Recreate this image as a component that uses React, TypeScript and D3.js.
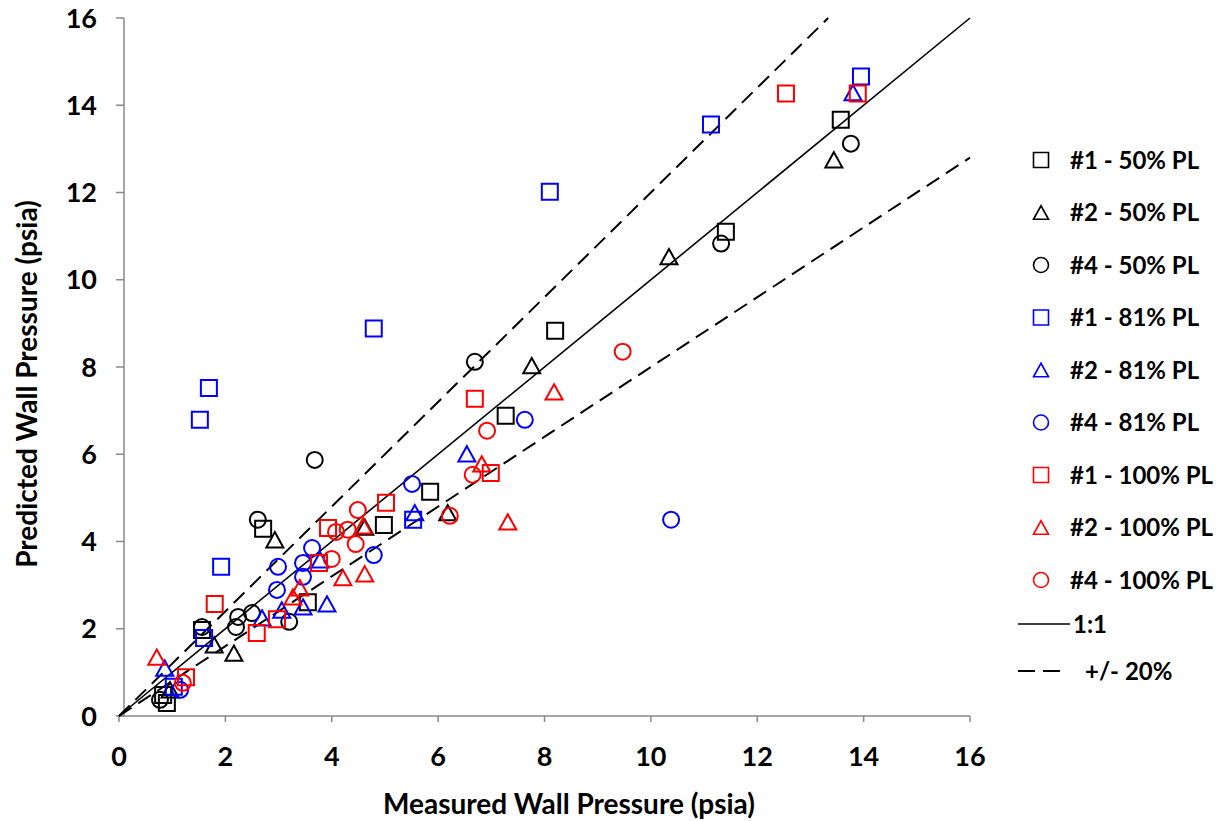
import React from 'react';
import * as d3 from 'd3';

const W = 1231;
const H = 821;

const xTicks = [0, 2, 4, 6, 8, 10, 12, 14, 16];
const yTicks = [0, 2, 4, 6, 8, 10, 12, 14, 16];

const seriesNames = [
  '#1 - 50% PL', '#2 - 50% PL', '#4 - 50% PL',
  '#1 - 81% PL', '#2 - 81% PL', '#4 - 81% PL',
  '#1 - 100% PL', '#2 - 100% PL', '#4 - 100% PL',
];
const seriesShapes = ['square', 'triangle', 'circle', 'square', 'triangle', 'circle', 'square', 'triangle', 'circle'];
const seriesColors = ['#000000', '#000000', '#000000', '#0000ff', '#0000ff', '#0000ff', '#ff0000', '#ff0000', '#ff0000'];

// [measured, predicted]
const s1_50: [number, number][] = [
  [13.57, 13.67], [11.41, 11.10], [8.20, 8.83], [7.27, 6.88], [5.85, 5.14], [4.98, 4.38],
  [2.71, 4.29], [3.55, 2.61], [1.56, 1.97], [0.83, 0.48], [0.90, 0.30],
];
const s2_50: [number, number][] = [
  [13.44, 12.75], [10.34, 10.53], [7.76, 8.03], [6.18, 4.66], [4.62, 4.33], [2.93, 4.04],
  [1.79, 1.63], [2.16, 1.44], [0.96, 0.60],
];
const s4_50: [number, number][] = [
  [13.76, 13.12], [11.32, 10.83], [6.69, 8.12], [3.68, 5.87], [2.61, 4.50], [2.24, 2.27],
  [2.20, 2.04], [3.20, 2.16], [2.50, 2.36], [1.56, 2.04], [0.77, 0.37],
];
const s1_81: [number, number][] = [
  [13.95, 14.66], [11.13, 13.56], [8.10, 12.02], [4.79, 8.88], [1.69, 7.52], [1.52, 6.79],
  [1.92, 3.42], [5.53, 4.50], [1.60, 1.79], [1.03, 0.67],
];
const s2_81: [number, number][] = [
  [13.80, 14.29], [6.54, 6.01], [5.56, 4.66], [3.78, 3.58], [3.91, 2.57], [3.46, 2.50],
  [3.06, 2.43], [2.69, 2.25], [0.86, 1.10],
];
const s4_81: [number, number][] = [
  [7.63, 6.79], [5.51, 5.32], [10.38, 4.50], [4.79, 3.69], [3.63, 3.85], [3.46, 3.51],
  [2.99, 3.42], [3.46, 3.19], [2.97, 2.89], [1.15, 0.60],
];
const s1_100: [number, number][] = [
  [12.54, 14.27], [13.89, 14.27], [6.69, 7.27], [6.99, 5.57], [5.02, 4.89], [3.93, 4.31],
  [3.76, 3.51], [1.80, 2.57], [2.97, 2.22], [2.59, 1.90], [1.26, 0.89],
];
const s2_100: [number, number][] = [
  [8.18, 7.43], [6.82, 5.78], [7.31, 4.45], [4.21, 3.17], [4.62, 3.26], [4.59, 4.36],
  [3.40, 2.94], [3.27, 2.73], [0.71, 1.35],
];
const s4_100: [number, number][] = [
  [9.47, 8.35], [6.92, 6.54], [6.65, 5.53], [6.22, 4.59], [4.49, 4.72], [4.08, 4.22],
  [4.30, 4.27], [4.45, 3.94], [4.00, 3.60], [1.20, 0.76],
];

const seriesData = [s1_50, s2_50, s4_50, s1_81, s2_81, s4_81, s1_100, s2_100, s4_100];

const refSlopes = [1, 1.2, 0.8];
const refDashed = [false, true, true];

const FONT = 'Lato, "Open Sans", sans-serif';

function markerPath(shape: string, cx: number, cy: number, s: number): string {
  const p = d3.path();
  if (shape === 'square') {
    p.rect(cx - s / 2, cy - s / 2, s, s);
  } else if (shape === 'triangle') {
    const h = s * 0.9;
    p.moveTo(cx, cy - h / 2);
    p.lineTo(cx + s / 2, cy + h / 2);
    p.lineTo(cx - s / 2, cy + h / 2);
    p.closePath();
  } else {
    p.moveTo(cx + s / 2, cy);
    p.arc(cx, cy, s / 2, 0, Math.PI * 2);
    p.closePath();
  }
  return p.toString();
}

export default function App() {
  const x = d3.scaleLinear().domain([0, 16]).range([119, 970]);
  const y = d3.scaleLinear().domain([0, 16]).range([716, 18]);
  const axisColor = '#898989';

  const legendX = 1041;
  const legendY0 = 160;
  const legendStep = 52.5;

  return (
    <svg width={W} height={H} style={{ position: 'absolute', left: 0, top: 0, background: '#fff' }}
      fontFamily={FONT}>
      <rect x={0} y={0} width={W} height={H} fill="#fff" />

      {/* axes */}
      <line x1={x(0)} x2={x(16)} y1={y(0)} y2={y(0)} stroke={axisColor} strokeWidth={1.5} />
      <line x1={x(0) + 5} x2={x(0) + 5} y1={y(0)} y2={y(16)} stroke={axisColor} strokeWidth={1.5} />
      {xTicks.map(t => (
        <g key={'xt' + t}>
          <line x1={x(t)} x2={x(t)} y1={y(0)} y2={y(0) + 6} stroke={axisColor} strokeWidth={1.5} />
          <text x={x(t)} y={766} textAnchor="middle" fontSize={27} fontWeight="bold" fill="#000">{t}</text>
        </g>
      ))}
      {yTicks.map(t => (
        <g key={'yt' + t}>
          <line x1={x(0) - 3} x2={x(0) + 5} y1={y(t)} y2={y(t)} stroke={axisColor} strokeWidth={1.5} />
          <text x={97} y={y(t) + 9.5} textAnchor="end" fontSize={27} fontWeight="bold" fill="#000">{t}</text>
        </g>
      ))}

      {/* reference lines */}
      {refSlopes.map((m, i) => {
        const xe = Math.min(16, 16 / m);
        return (
          <line key={'ref' + i} x1={x(0)} y1={y(0)} x2={x(xe)} y2={y(xe * m)}
            stroke="#000" strokeWidth={refDashed[i] ? 2 : 1.6}
            strokeDasharray={refDashed[i] ? '15 8' : undefined} />
        );
      })}

      {/* data */}
      {seriesData.map((data, si) => (
        <g key={'s' + si}>
          {data.map((d, i) => (
            <path key={i} d={markerPath(seriesShapes[si], x(d[0]), y(d[1]), seriesShapes[si] === 'triangle' ? 17 : 16)}
              fill="none" stroke={seriesColors[si]} strokeWidth={2} />
          ))}
        </g>
      ))}

      {/* axis titles */}
      <text x={569} y={814} textAnchor="middle" fontSize={28} fontWeight="bold" fill="#000">Measured Wall Pressure (psia)</text>
      <text transform={`translate(37, 384) rotate(-90)`} textAnchor="middle" fontSize={28} fontWeight="bold" fill="#000">Predicted Wall Pressure (psia)</text>

      {/* legend */}
      {seriesNames.map((n, i) => {
        const ly = legendY0 + i * legendStep;
        return (
          <g key={'lg' + i}>
            <path d={markerPath(seriesShapes[i], legendX, ly, 15)} fill="none" stroke={seriesColors[i]} strokeWidth={1.6} />
            <text x={1070} y={ly + 8.5} fontSize={24} fontWeight="bold" fill="#000">{n}</text>
          </g>
        );
      })}
      <line x1={1018} x2={1070} y1={624} y2={624} stroke="#000" strokeWidth={1.5} />
      <text x={1073} y={632.5} fontSize={24} fontWeight="bold" fill="#000">1:1</text>
      <line x1={1018} x2={1067} y1={671} y2={671} stroke="#000" strokeWidth={2} strokeDasharray="17 8" />
      <text x={1085} y={679.5} fontSize={24} fontWeight="bold" fill="#000">+/- 20%</text>
    </svg>
  );
}
